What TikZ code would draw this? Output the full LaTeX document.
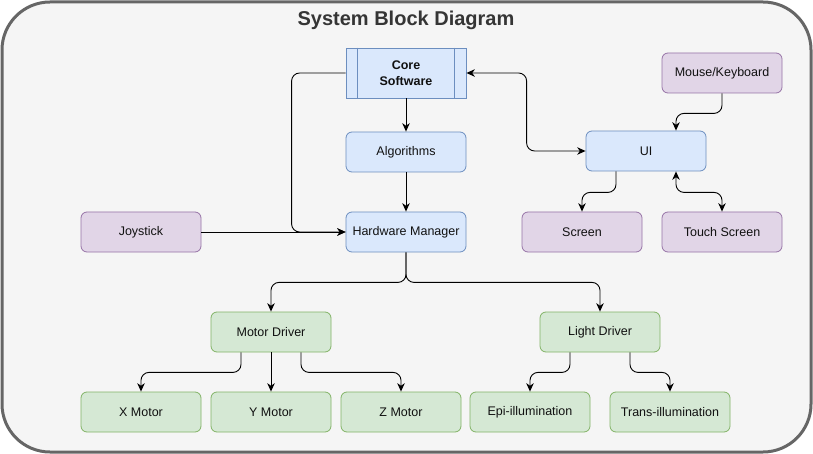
\documentclass[tikz,border=0pt]{standalone}
\usepackage{fontspec}
\setmainfont{Liberation Sans}
\usetikzlibrary{arrows.meta,calc}
\definecolor{bgc}{HTML}{F5F5F5}
\definecolor{framec}{HTML}{666666}
\definecolor{bluef}{HTML}{DAE8FC}
\definecolor{blued}{HTML}{6C8EBF}
\definecolor{purpf}{HTML}{E1D5E7}
\definecolor{purpd}{HTML}{9673A6}
\definecolor{greenf}{HTML}{D5E8D4}
\definecolor{greend}{HTML}{82B366}
\definecolor{txt}{HTML}{111111}
\tikzset{
  box/.style={rounded corners=6pt, minimum width=120pt, minimum height=40pt, inner sep=0pt,
    font=\fontsize{12.5}{16}\selectfont, text=txt, line width=0.8pt},
  bluebox/.style={box, fill=bluef, draw=blued},
  purpbox/.style={box, fill=purpf, draw=purpd},
  greenbox/.style={box, fill=greenf, draw=greend},
  arr/.style={-{Stealth[length=8.5pt,width=7.5pt]}, line width=0.9pt, black, rounded corners=8pt},
  biarr/.style={{Stealth[length=8.5pt,width=7.5pt]}-{Stealth[length=8.5pt,width=7.5pt]}, line width=0.9pt, black, rounded corners=8pt},
}
\begin{document}
\begin{tikzpicture}[x=1pt,y=-1pt]
\useasboundingbox (0,0) rectangle (813,454);
\draw[line width=3pt, draw=framec, fill=bgc, rounded corners=48pt] (2,2) rectangle (811,452);
\node[font=\fontsize{20}{24}\selectfont\bfseries, text=txt!85!white] (title) at (406,20) {System Block Diagram};

% nodes
\node[bluebox, rounded corners=0pt, minimum height=50pt, align=center, font=\fontsize{12.5}{16}\selectfont\bfseries] (core) at (406,73) {Core\\Software};
\draw[blued, line width=0.8pt] ($(core.north west)+(12,0)$) -- ($(core.south west)+(12,0)$);
\draw[blued, line width=0.8pt] ($(core.north east)+(-12,0)$) -- ($(core.south east)+(-12,0)$);
\node[bluebox] (alg) at (406,152) {Algorithms};
\node[bluebox] (hm) at (406,232) {Hardware Manager};
\node[purpbox] (joy) at (141,232) {Joystick};
\node[purpbox] (mk) at (722,73) {Mouse/Keyboard};
\node[bluebox] (ui) at (646,151) {UI};
\node[purpbox] (scr) at (582,232) {Screen};
\node[purpbox] (ts) at (722,232) {Touch Screen};
\node[greenbox] (md) at (271,332) {Motor Driver};
\node[greenbox] (ld) at (600,332) {Light Driver};
\node[greenbox] (xm) at (141,412) {X Motor};
\node[greenbox] (ym) at (271,412) {Y Motor};
\node[greenbox] (zm) at (401,412) {Z Motor};
\node[greenbox] (epi) at (530,412) {Epi-illumination};
\node[greenbox] (trans) at (670,412) {Trans-illumination};

% connectors
\draw[arr] (core.south) -- (alg.north);
\draw[arr] (alg.south) -- (hm.north);
\draw[arr] (core.west) -| ([xshift=-54pt]hm.west) -- (hm.west);
\draw[arr] (joy.east) -- (hm.west);
\draw[biarr] (core.east) -| ([xshift=-59pt]ui.west) -- (ui.west);
\draw[arr] (mk.south) -- ++(0,20) -| ([xshift=30pt]ui.north);
\draw[arr] ([xshift=-30pt]ui.south) -- ++(0,21) -| (scr.north);
\draw[biarr] ([xshift=30pt]ui.south) -- ++(0,21) -| (ts.north);
\draw[arr] (hm.south) -- ++(0,30) -| (md.north);
\draw[arr] (hm.south) -- ++(0,30) -| (ld.north);
\draw[arr] ([xshift=-30pt]md.south) -- ++(0,20) -| (xm.north);
\draw[arr] (md.south) -- (ym.north);
\draw[arr] ([xshift=30pt]md.south) -- ++(0,20) -| (zm.north);
\draw[arr] ([xshift=-30pt]ld.south) -- ++(0,20) -| (epi.north);
\draw[arr] ([xshift=30pt]ld.south) -- ++(0,20) -| (trans.north);
\end{tikzpicture}
\end{document}
